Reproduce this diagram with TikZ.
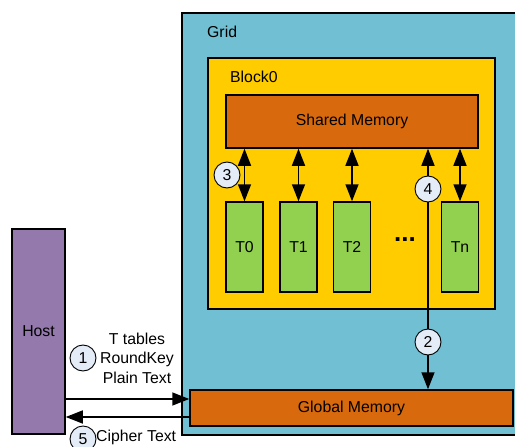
\documentclass[tikz,border=0pt]{standalone}
\usepackage{fontspec}
\setmainfont{Liberation Sans}
\usetikzlibrary{arrows.meta, positioning}
\definecolor{GridBlue}{HTML}{71BFD3}
\definecolor{BlockYellow}{HTML}{FFCC00}
\definecolor{MemOrange}{HTML}{D8690C}
\definecolor{ThreadGreen}{HTML}{92D050}
\definecolor{HostPurple}{HTML}{9479AC}
\definecolor{StepFill}{HTML}{E4ECF7}
\tikzset{
    box/.style={rectangle, draw=black, line width=1.5pt, inner sep=0pt},
    membox/.style={box, fill=MemOrange},
    thread/.style={box, fill=ThreadGreen, minimum width=37pt, minimum height=90pt},
    stepmark/.style={circle, draw=black, line width=0.9pt, fill=StepFill, minimum size=26pt, inner sep=0pt},
    flow/.style={-{Triangle[length=17pt,width=13pt]}, line width=1.5pt},
    duplex/.style={{Triangle[length=17pt,width=13pt]}-{Triangle[length=17pt,width=13pt]}, line width=1.5pt},
}

\begin{document}
\begin{tikzpicture}[x=1pt, y=-1pt, font=\fontsize{15.8}{19.5}\selectfont]
    \useasboundingbox (0,0) rectangle (515,447);

    % Grid and the block inside it
    \node[box, fill=GridBlue, minimum width=338pt, minimum height=422pt] (grid) at (351,224) {};
    \node[anchor=west, inner sep=0pt] (gridlabel) at (207,32) {Grid};
    \node[box, fill=BlockYellow, minimum width=287pt, minimum height=251pt] (block) at (351.5,183.5) {};
    \node[anchor=west, inner sep=0pt] (blocklabel) at (230,77) {Block0};

    % Memories
    \node[membox, minimum width=252pt, minimum height=53pt] (shared) at (352,121.5) {Shared Memory};
    \node[membox, minimum width=323pt, minimum height=36pt] (global) at (351.5,408) {Global Memory};

    % Threads
    \node[thread] (t0) at (244.5,247) {T0};
    \node[thread] (t1) at (298.5,247) {T1};
    \node[thread] (t2) at (352,247) {T2};
    \node[thread] (tn) at (460,247) {Tn};
    \node[font=\fontsize{26}{26}\bfseries\selectfont, inner sep=0pt] (dots) at (405,240) {...};

    % Shared memory <-> threads
    \foreach \t in {t0, t1, t2, tn}
        \draw[duplex] (shared.south -| \t) -- (\t.north);

    % Block <-> global memory
    \node[stepmark] (c4) at (428,189) {4};
    \draw[flow] (c4.north) -- (shared.south -| c4);
    \draw[flow] (c4.south) -- (global.north -| c4);
    \node[stepmark] (c2) at (428,342) {2};
    \node[stepmark] (c3) at (227,175) {3};

    % Host
    \node[box, fill=HostPurple, minimum width=53pt, minimum height=205pt] (host) at (38.5,331.5) {Host};
    \coordinate (gin) at ([yshift=9pt]global.west);
    \coordinate (gout) at ([yshift=-9pt]global.west);
    \draw[flow] (host.east |- gin) -- (gin);
    \draw[flow] (gout) -- (host.east |- gout);

    % Transfer labels
    \node[stepmark] (c1) at (83,358) {1};
    \node[align=center, inner sep=0pt] (keys) at (137,358) {T tables\\RoundKey\\Plain Text};
    \node[stepmark] (c5) at (83,439) {5};
    \node[anchor=west, inner sep=0pt] (cipher) at (96,437.5) {Cipher Text};
\end{tikzpicture}
\end{document}
